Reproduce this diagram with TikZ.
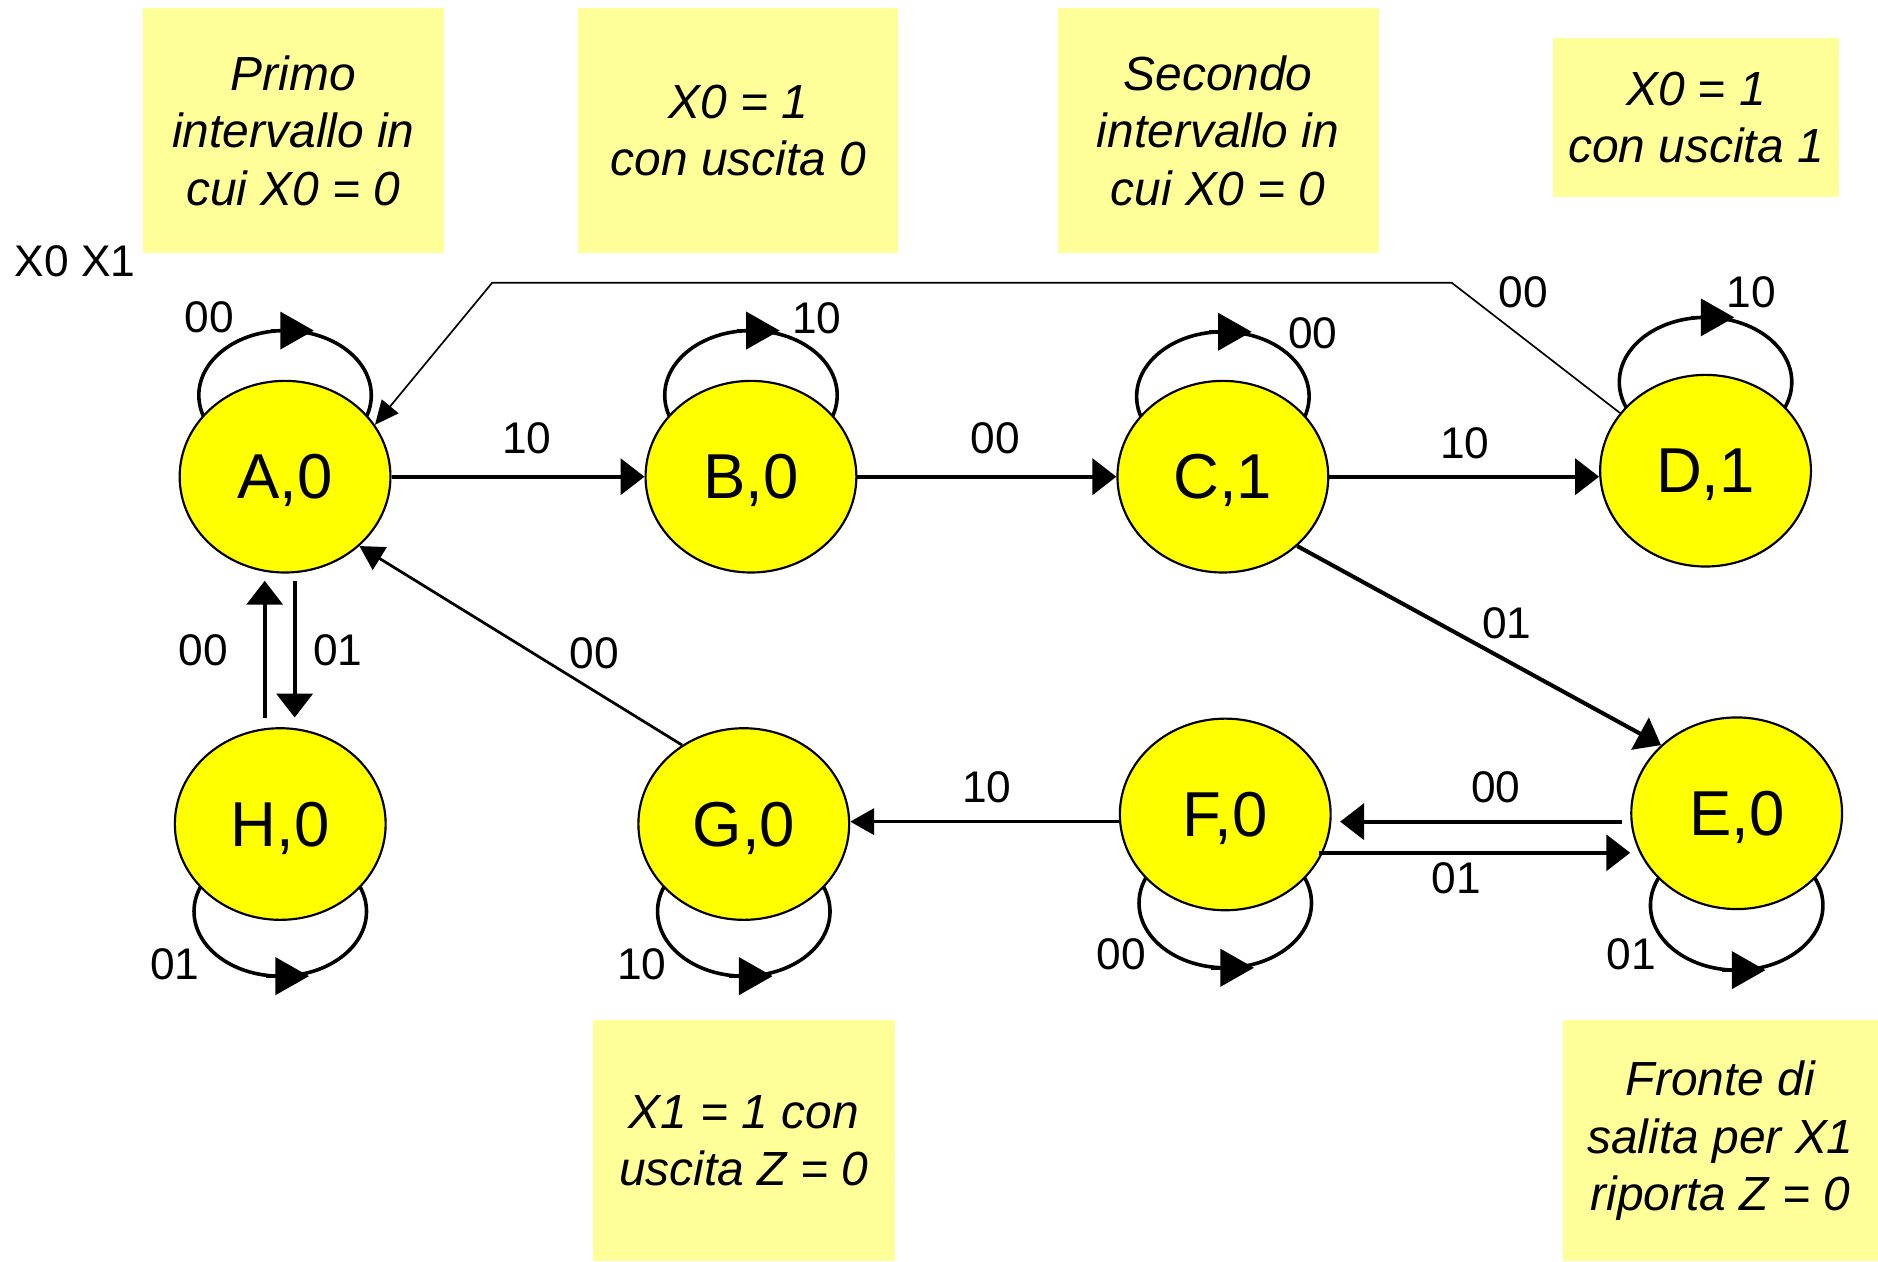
\documentclass[tikz,border=0pt]{standalone}
\usepackage{fontspec}
\setmainfont{Liberation Sans}
\usetikzlibrary{arrows.meta,shapes.geometric,calc}
\definecolor{stateyellow}{HTML}{FFFF00}
\definecolor{noteyellow}{HTML}{FFFF99}
\pgfdeclarelayer{bg}
\pgfsetlayers{bg,main}
\begin{document}
\begin{tikzpicture}[x=1pt,y=-1pt,
  state/.style={ellipse, draw, line width=1.8pt, fill=stateyellow,
    minimum width=176pt, minimum height=160pt, inner sep=0pt, text depth=0pt,
    font=\fontsize{53}{62}\selectfont},
  note/.style={fill=noteyellow, align=center, inner sep=0pt,
    font=\fontsize{40}{48}\selectfont\itshape},
  lab/.style={font=\fontsize{37}{44}\selectfont, inner sep=0pt},
  edge/.style={line width=3.4pt, -{Triangle[length=20pt,width=30pt]}},
  midedge/.style={line width=2.3pt, -{Triangle[length=20pt,width=22pt]}},
  thinedge/.style={line width=1.4pt, -{Triangle[length=20pt,width=18pt]}},
  loopline/.style={line width=3pt},
  loophead/.style={line width=3pt, -{Triangle[length=28pt,width=31pt]}},
]
\useasboundingbox (0,0) rectangle (1568,1053);

% explanatory notes
\node[note, minimum width=252pt, minimum height=204pt] (n1) at (245,109)
  {Primo\\intervallo in\\cui X0 = 0};
\node[note, minimum width=267pt, minimum height=204pt] (n2) at (616.5,109)
  {X0 = 1\\con uscita 0};
\node[note, minimum width=268pt, minimum height=204pt] (n3) at (1017,109)
  {Secondo\\intervallo in\\cui X0 = 0};
\node[note, minimum width=238pt, minimum height=133pt] (n4) at (1416,98)
  {X0 = 1\\con uscita 1};
\node[note, minimum width=252pt, minimum height=201pt] (n5) at (621,952.5)
  {X1 = 1 con\\uscita Z = 0};
\node[note, minimum width=263pt, minimum height=201pt] (n6) at (1436.5,952.5)
  {Fronte di\\salita per X1\\riporta Z = 0};

\node[lab, anchor=west] (hdr) at (12,218) {X0 X1};

% states
\node[state] (A) at (238,398) {A,0};
\node[state] (B) at (627,398) {B,0};
\node[state] (C) at (1021,398) {C,1};
\node[state] (D) at (1424,393) {D,1};
\node[state] (H) at (234,688) {H,0};
\node[state] (G) at (621,688) {G,0};
\node[state] (F) at (1023,680) {F,0};
\node[state] (E) at (1450,679) {E,0};

% self loops, partly hidden behind the states
\begin{pgfonlayer}{bg}
  \fill[white] (0,0) rectangle (1568,1053);
  \foreach \s/\dy in {A/-68, B/-68, C/-67, D/-74}
    \draw[loopline] ($(\s)+(0,\dy)$) ellipse [x radius=72pt, y radius=54pt];
  \foreach \s/\dy in {H/73, G/73, F/74, E/77}
    \draw[loopline] ($(\s)+(0,\dy)$) ellipse [x radius=72pt, y radius=54pt];
\end{pgfonlayer}
\foreach \s/\dy in {A/-122, B/-122, C/-121, D/-128, H/127, G/127, F/128, E/131}
  \draw[loophead] ($(\s)+(-12,\dy)$) -- ++(36,0);

% transitions
\draw[edge] (A.east) -- (A.east -| B.west);
\draw[edge] (B.east) -- (B.east -| C.west);
\draw[edge] (C.east) -- (C.east -| D.west);
\draw[edge] (C.-43) -- (E.138);
\coordinate (ef) at ($(E.west)+(-7,7)$);
\draw[edge, shorten >=7pt] (ef) -- (ef -| F.east);
\coordinate (fe) at ($(F.east)+(-11,32)$);
\draw[edge] (fe) -- ($(E.west)+(0,33)$);
\coordinate (fg) at ($(F.west)+(0,6)$);
\draw[midedge] (fg) -- (fg -| G.east);
\draw[midedge] (G.128) -- (A.-43);
\draw[edge] ([xshift=8pt,yshift=-6pt]A.south) -- ([xshift=12pt,yshift=8pt]H.north);
\draw[edge] ([xshift=-13pt,yshift=8pt]H.north) -- ([xshift=-17pt,yshift=-6pt]A.south);
\coordinate (k1) at (1212,236);
\coordinate (k2) at (411,236);
\draw[thinedge] (D.146) -- (k1) -- (k2) -- (A.30);

% transition labels
\node[lab] (lab) at (440,366) {10};
\node[lab] (lbc) at (831,366) {00};
\node[lab] (lcd) at (1223,370) {10};
\node[lab] (lce) at (1258,520) {01};
\node[lab] (lef) at (1249,657) {00};
\node[lab] (lfe) at (1216,733) {01};
\node[lab] (lfg) at (824,657) {10};
\node[lab] (lga) at (496,545) {00};
\node[lab] (lah) at (282,543) {01};
\node[lab] (lha) at (170,543) {00};
\node[lab] (lda) at (1272,244) {00};
\node[lab] (laa) at (175,265) {00};
\node[lab] (lbb) at (682,266) {10};
\node[lab] (lcc) at (1096,278) {00};
\node[lab] (ldd) at (1462,244) {10};
\node[lab] (lhh) at (146,805) {01};
\node[lab] (lgg) at (536,805) {10};
\node[lab] (lff) at (936,797) {00};
\node[lab] (lee) at (1362,797) {01};
\end{tikzpicture}
\end{document}
